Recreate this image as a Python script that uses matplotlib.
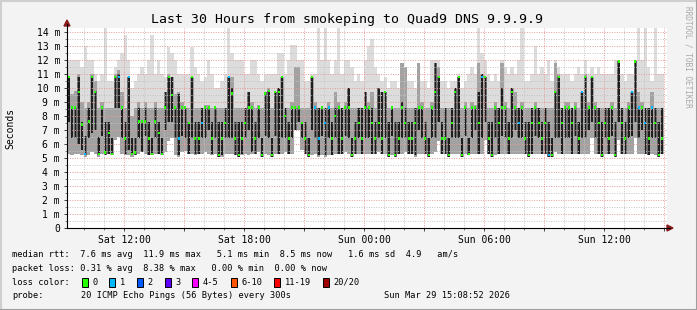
import numpy as np
import matplotlib.pyplot as plt
from matplotlib.lines import Line2D
from matplotlib.patches import Polygon, Rectangle
from matplotlib.ticker import MultipleLocator, FuncFormatter

plt.rcParams["font.family"] = "DejaVu Sans Mono"

W, H = 697, 310

# ================================
# DATA (10-minute columns, milliseconds)
# ================================

start_hour = 9 + 8 / 60 + 52 / 3600   # Sat 09:08:52, graph spans 30 h

median = [
    10.8, 8.6, 8.6, 9.7, 7.4, 5.3, 7.6, 10.8, 9.7, 5.3, 8.6, 5.4, 6.8, 5.3, 10.8, 10.8, 8.6, 6.4, 10.8, 5.3, 5.4, 7.6, 7.6, 7.6, 6.4, 5.3, 7.6, 6.8, 5.3, 8.6,
    10.8, 9.5, 8.6, 6.4, 8.6, 8.6, 7.5, 10.8, 6.4, 6.4, 7.5, 8.6, 8.6, 6.4, 8.6, 5.2, 6.4, 7.5, 10.8, 9.6, 6.4, 5.2, 6.4, 7.5, 8.6, 8.6, 6.4, 8.6, 5.2, 9.6,
    9.8, 5.2, 9.7, 9.7, 10.8, 8.0, 6.4, 8.6, 8.6, 8.6, 7.5, 6.4, 5.2, 10.8, 8.6, 6.4, 8.6, 7.5, 8.6, 6.4, 8.0, 8.6, 6.4, 8.6, 8.6, 5.2, 6.4, 7.5, 6.4, 8.6,
    8.6, 7.5, 6.4, 7.5, 6.4, 9.7, 5.2, 8.6, 5.2, 6.4, 8.6, 7.5, 6.4, 6.4, 7.5, 8.6, 8.6, 6.4, 5.2, 8.6, 9.7, 10.8, 6.4, 6.4, 5.2, 7.5, 9.7, 10.8, 5.2, 8.6,
    5.3, 8.6, 8.6, 7.5, 10.8, 10.8, 6.4, 5.2, 8.6, 7.5, 8.6, 8.6, 6.4, 9.7, 8.6, 7.5, 8.6, 6.4, 5.2, 7.5, 8.6, 7.5, 6.4, 7.5, 5.2, 5.2, 9.7, 10.8, 7.5, 8.6,
    8.6, 7.5, 8.6, 6.4, 9.7, 10.8, 8.6, 10.8, 8.6, 7.5, 5.2, 7.5, 6.4, 8.6, 5.2, 11.9, 7.5, 6.4, 8.6, 9.7, 11.9, 8.6, 8.6, 7.5, 6.4, 8.6, 7.5, 5.2, 6.4,
]

core_lo = [
    7.6, 6.4, 6.4, 6.0, 5.6, 5.2, 6.4, 6.8, 7.0, 5.2, 6.6, 5.2, 5.3, 5.2, 8.6, 8.6, 6.4, 5.3, 5.6, 5.2, 5.2, 6.4, 5.4, 6.6, 5.2, 5.2, 6.4, 5.3, 5.2, 7.0,
    7.6, 7.6, 6.4, 5.2, 6.6, 6.4, 5.3, 6.4, 5.3, 5.3, 6.4, 6.4, 7.0, 5.3, 6.4, 5.1, 5.2, 6.4, 6.4, 6.4, 5.2, 5.1, 5.3, 6.4, 7.0, 5.4, 5.3, 6.4, 5.1, 6.6,
    6.4, 5.1, 6.6, 5.3, 6.4, 6.4, 5.3, 6.4, 7.0, 7.6, 6.4, 5.3, 5.1, 7.0, 6.4, 5.2, 6.6, 5.2, 6.4, 5.2, 6.4, 5.3, 5.3, 6.6, 6.4, 5.1, 5.3, 6.4, 5.3, 6.4,
    6.4, 5.3, 5.3, 6.4, 5.3, 6.4, 5.1, 6.6, 5.1, 5.3, 6.4, 6.4, 5.3, 5.3, 5.2, 7.0, 6.4, 5.3, 5.1, 6.4, 6.4, 7.6, 5.3, 5.3, 5.1, 6.4, 6.4, 6.4, 5.1, 6.6,
    5.2, 6.4, 7.0, 5.3, 6.4, 7.6, 5.3, 5.1, 6.4, 5.3, 6.6, 6.4, 5.3, 6.4, 7.0, 6.4, 6.4, 5.3, 5.1, 5.3, 6.6, 6.4, 5.3, 5.3, 5.1, 5.1, 6.4, 6.4, 5.3, 6.4,
    6.4, 5.3, 6.6, 5.3, 6.4, 6.4, 7.0, 7.6, 6.4, 5.3, 5.1, 6.4, 5.3, 6.6, 5.1, 7.6, 5.3, 5.3, 6.4, 6.6, 7.6, 6.4, 7.0, 5.3, 5.2, 6.4, 6.4, 5.1, 5.3,
]

core_hi = [
    10.8, 8.6, 8.6, 10.8, 7.6, 6.6, 8.6, 10.8, 9.8, 6.5, 8.6, 7.6, 7.6, 6.4, 10.8, 11.0, 8.6, 7.6, 10.8, 6.4, 6.4, 8.6, 7.6, 8.6, 7.6, 6.4, 8.6, 7.6, 6.4, 9.7,
    10.8, 10.8, 8.6, 9.6, 8.6, 8.6, 7.6, 10.8, 7.6, 7.6, 8.6, 8.6, 8.6, 7.6, 8.6, 7.6, 7.6, 8.6, 10.8, 10.0, 7.6, 7.6, 7.6, 8.6, 9.7, 8.6, 7.6, 8.6, 6.4, 9.7,
    9.8, 6.4, 9.7, 10.0, 10.8, 8.6, 7.6, 8.6, 8.6, 8.6, 7.6, 7.6, 6.4, 10.8, 8.6, 8.6, 8.6, 8.6, 8.6, 7.6, 8.6, 8.6, 8.6, 8.6, 10.0, 6.4, 7.6, 8.6, 8.6, 9.7,
    8.6, 8.6, 7.6, 10.0, 9.7, 9.7, 7.6, 8.6, 7.6, 7.6, 9.0, 8.6, 7.6, 7.6, 8.6, 8.6, 8.6, 7.6, 6.4, 8.6, 11.8, 10.8, 7.6, 8.6, 6.4, 8.6, 10.0, 10.8, 6.4, 8.6,
    6.4, 8.6, 8.6, 9.7, 11.0, 10.8, 7.6, 7.6, 8.6, 8.6, 10.0, 8.6, 7.6, 10.0, 8.6, 8.6, 8.6, 7.6, 7.6, 8.6, 8.6, 8.6, 7.6, 8.6, 7.6, 6.4, 9.7, 10.8, 8.6, 8.6,
    8.6, 8.6, 8.6, 7.6, 9.7, 10.8, 8.6, 10.8, 8.6, 8.6, 7.6, 8.6, 8.6, 8.6, 7.6, 11.9, 8.6, 7.6, 8.6, 9.7, 11.9, 8.6, 8.6, 8.6, 8.6, 8.6, 8.6, 7.6, 8.6,
]

grey_hi = [
    10.8, 9.6, 9.8, 11.0, 9.0, 8.6, 9.0, 11.0, 10.5, 8.6, 9.0, 8.6, 8.6, 8.6, 11.0, 11.3, 9.7, 8.6, 10.8, 8.0, 8.6, 9.0, 8.6, 9.0, 8.6, 8.6, 9.0, 8.6, 8.6, 9.7,
    11.0, 10.8, 9.6, 9.7, 9.0, 8.6, 8.6, 10.8, 8.6, 8.6, 8.6, 8.8, 8.8, 8.6, 8.6, 8.6, 8.6, 8.6, 10.8, 10.8, 8.6, 8.6, 8.6, 8.6, 9.7, 9.0, 8.6, 8.8, 8.6, 9.7,
    10.0, 8.6, 9.7, 10.0, 10.8, 8.6, 8.6, 9.0, 11.5, 11.5, 8.6, 8.6, 8.6, 10.8, 9.0, 8.6, 8.6, 8.6, 9.0, 8.6, 9.7, 9.0, 8.6, 9.0, 10.0, 8.6, 8.6, 8.6, 8.6, 9.7,
    9.0, 9.7, 8.6, 10.0, 9.7, 9.7, 8.6, 8.6, 8.6, 8.6, 11.8, 11.5, 8.6, 8.6, 8.6, 11.8, 9.0, 8.6, 8.6, 9.0, 11.8, 11.5, 8.6, 8.6, 8.6, 8.6, 10.0, 10.8, 8.6, 9.0,
    8.6, 9.0, 8.8, 11.8, 11.0, 10.8, 8.6, 8.6, 9.0, 8.6, 11.8, 9.0, 8.6, 10.0, 9.7, 8.6, 9.0, 8.6, 8.6, 8.6, 9.0, 8.6, 8.6, 8.6, 8.6, 8.6, 11.8, 11.0, 8.6, 9.0,
    9.0, 8.6, 9.0, 8.6, 9.7, 11.0, 9.0, 10.8, 9.0, 8.6, 8.6, 8.6, 8.6, 9.0, 8.6, 11.9, 8.6, 8.6, 9.0, 9.7, 11.9, 9.7, 9.0, 8.6, 8.6, 9.7, 8.6, 8.6, 8.6,
]

smoke_top = [
    12.0, 12.0, 12.0, 12.0, 11.5, 13.0, 12.0, 12.0, 11.0, 10.5, 11.0, 14.3, 10.5, 10.5, 11.5, 12.0, 12.5, 13.8, 12.0, 10.0, 10.5, 11.0, 11.5, 11.0, 12.0, 13.8, 11.0, 12.0, 11.0, 10.8,
    12.9, 12.5, 12.0, 11.0, 11.0, 11.0, 11.0, 12.9, 11.5, 11.0, 10.5, 10.8, 12.0, 11.0, 10.0, 10.0, 10.5, 11.0, 14.3, 12.5, 12.0, 12.0, 12.0, 11.0, 11.0, 12.0, 12.0, 11.0, 10.5, 11.0,
    11.0, 11.0, 11.0, 12.5, 12.5, 11.0, 12.0, 13.1, 13.1, 12.0, 12.0, 10.5, 10.5, 11.0, 11.0, 14.3, 12.0, 14.3, 12.0, 11.0, 12.0, 14.3, 11.0, 12.0, 12.0, 11.5, 10.5, 11.0, 10.5, 12.0,
    13.0, 13.5, 11.5, 11.0, 10.5, 10.8, 10.0, 10.5, 10.5, 10.0, 11.8, 11.5, 10.5, 10.5, 10.0, 11.8, 10.5, 10.5, 10.0, 12.0, 12.0, 12.0, 10.5, 10.5, 10.0, 10.5, 10.5, 11.0, 10.0, 10.5,
    11.0, 11.5, 11.0, 14.3, 12.5, 12.0, 11.0, 10.5, 11.0, 10.5, 12.0, 11.5, 11.0, 11.5, 11.0, 12.0, 14.3, 10.5, 10.5, 11.0, 13.0, 11.0, 11.5, 11.0, 12.0, 10.5, 12.0, 11.5, 11.0, 11.0,
    11.0, 10.5, 11.0, 11.5, 11.0, 12.0, 11.0, 11.5, 11.0, 11.5, 11.0, 11.0, 11.0, 11.0, 12.0, 12.0, 11.0, 10.5, 11.0, 11.0, 12.0, 14.3, 12.0, 14.3, 11.5, 10.5, 14.3, 11.0, 11.0,
]

smoke_lo = [
    5.3, 5.2, 5.3, 5.3, 5.2, 5.1, 5.2, 5.4, 5.3, 5.1, 5.3, 5.2, 5.3, 5.2, 6.3, 6.5, 5.3, 5.2, 5.2, 5.1, 5.2, 5.3, 5.4, 5.3, 5.2, 5.2, 5.3, 5.3, 5.2, 5.4,
    6.2, 6.4, 5.2, 5.1, 5.4, 5.5, 5.3, 5.3, 5.2, 5.3, 5.3, 5.4, 5.3, 5.2, 5.3, 5.1, 5.1, 5.3, 5.3, 5.3, 5.2, 5.1, 5.2, 5.3, 5.2, 5.3, 5.3, 5.4, 5.1, 5.3,
    5.2, 5.1, 5.3, 5.3, 5.3, 5.4, 5.3, 5.3, 7.0, 7.0, 5.6, 5.3, 5.1, 5.2, 5.3, 5.1, 5.2, 5.1, 5.2, 5.2, 5.3, 5.3, 5.3, 5.4, 5.3, 5.1, 5.3, 5.3, 5.3, 5.3,
    5.3, 5.3, 5.3, 5.4, 5.3, 5.3, 5.1, 5.2, 5.1, 5.3, 5.3, 5.4, 5.3, 5.3, 5.1, 5.3, 5.3, 5.3, 5.1, 5.3, 5.4, 6.2, 5.3, 5.3, 5.1, 5.3, 5.3, 5.3, 5.1, 5.3,
    5.2, 5.3, 5.3, 5.3, 5.3, 6.3, 5.3, 5.1, 5.2, 5.3, 5.3, 5.3, 5.3, 5.3, 5.3, 5.3, 5.3, 5.3, 5.1, 5.3, 5.3, 5.3, 5.3, 5.3, 5.1, 5.1, 5.4, 5.3, 5.3, 5.3,
    5.3, 5.3, 5.3, 5.3, 5.3, 5.3, 5.3, 6.4, 5.3, 5.3, 5.1, 5.3, 5.3, 5.3, 5.1, 6.3, 5.3, 5.3, 5.3, 5.3, 6.4, 5.3, 5.3, 5.3, 5.2, 5.3, 5.2, 5.1, 5.3,
]

# columns whose median was measured with 1 lost ping
loss1_cols = [5, 15, 18, 33, 40, 48, 74, 75, 77, 78, 124, 135, 144, 154, 169, 171, 173, 175]

loss_labels = ["0", "1", "2", "3", "4-5", "6-10", "11-19", "20/20"]
loss_colors = ["#26ff00", "#00b8ff", "#0059ff", "#5e00ff", "#ff00ff", "#ff5500", "#ff0000", "#a10000"]

title = "Last 30 Hours from smokeping to Quad9 DNS 9.9.9.9"
stats_rtt = "median rtt:  7.6 ms avg  11.9 ms max   5.1 ms min  8.5 ms now   1.6 ms sd  4.9   am/s"
stats_loss = "packet loss: 0.31 % avg  8.38 % max   0.00 % min  0.00 % now"
probe_text = "20 ICMP Echo Pings (56 Bytes) every 300s"
stamp = "Sun Mar 29 15:08:52 2026"


# ================================
# FIGURE
# ================================

def fx(x):
    return x / W


def fy(y):
    return 1 - y / H


fig = plt.figure(figsize=(W / 100, H / 100), dpi=100, facecolor="#f3f3f3")
ax = fig.add_axes([fx(67), fy(228), 600 / W, 200 / H])
ax.set_facecolor("white")

n = len(median)
x = start_hour + np.arange(n) / 6
step = 1 / 6

lo = np.array(smoke_lo)
ax.bar(x, np.array(smoke_top) - lo, bottom=lo, width=step, align="edge",
       color="#dcdcdc", linewidth=0, zorder=1)
ax.bar(x, np.array(grey_hi) - lo, bottom=lo, width=step, align="edge",
       color="#a2a2a2", linewidth=0, zorder=1.1)
ax.bar(x + step * 0.1, np.array(core_hi) - np.array(core_lo), bottom=core_lo,
       width=step * 0.8, align="edge", color="#6a6a6a", linewidth=0, zorder=1.15)
ax.bar(x + step * 0.25, np.array(core_hi) - np.array(core_lo), bottom=core_lo,
       width=step * 0.5, align="edge", color="#1e1e1e", linewidth=0, zorder=1.2)

med_colors = [loss_colors[1] if i in loss1_cols else loss_colors[0] for i in range(n)]
ax.bar(x + step * 0.2, 0.17, bottom=np.array(median) - 0.08, width=step * 0.6,
       align="edge", color=med_colors, linewidth=0, zorder=3)

ax.set_xlim(start_hour, start_hour + 30)
ax.set_ylim(0, 200 / 14)

ax.xaxis.set_major_locator(MultipleLocator(3))
ax.xaxis.set_minor_locator(MultipleLocator(1))
ax.yaxis.set_major_locator(MultipleLocator(1))
ax.yaxis.set_minor_locator(MultipleLocator(0.5))


def xfmt(v, pos):
    h = int(round(v))
    if h % 6:
        return ""
    day = "Sat" if h < 24 else "Sun"
    return f"{day} {h % 24:02d}:00"


def yfmt(v, pos):
    v = int(round(v))
    return "0" if v == 0 else f"{v} m"


ax.xaxis.set_major_formatter(FuncFormatter(xfmt))
ax.yaxis.set_major_formatter(FuncFormatter(yfmt))

ax.set_axisbelow(False)
ax.grid(which="major", color="#e69a9a", linestyle=(0, (1, 1.5)), linewidth=0.7)
ax.grid(which="minor", color="#c4c4c4", linestyle=(0, (1, 1.5)), linewidth=0.7)
ax.tick_params(which="major", direction="out", length=2.5, width=0.7,
               color="#404040", labelsize=7, pad=2.5)
ax.tick_params(which="minor", direction="out", length=1.5, width=0.7, color="#808080")
for s in ax.spines.values():
    s.set_visible(False)

# axis lines with rrdtool arrows
fig.add_artist(Line2D([fx(67), fx(670)], [fy(228), fy(228)], color="black", lw=0.8))
fig.add_artist(Line2D([fx(67), fx(67)], [fy(228), fy(24)], color="black", lw=0.8))
fig.add_artist(Polygon([(fx(667), fy(225)), (fx(667), fy(231)), (fx(673), fy(228))],
                       closed=True, color="#8b1a1a", transform=fig.transFigure))
fig.add_artist(Polygon([(fx(64), fy(26)), (fx(70), fy(26)), (fx(67), fy(20))],
                       closed=True, color="#8b1a1a", transform=fig.transFigure))

# 3d frame
fig.add_artist(Line2D([0, 1], [fy(0.5)] * 2, color="#cfcfcf", lw=1.5))
fig.add_artist(Line2D([fx(0.5)] * 2, [0, 1], color="#cfcfcf", lw=1.5))
fig.add_artist(Line2D([0, 1], [fy(H - 0.5)] * 2, color="#9e9e9e", lw=1.5))
fig.add_artist(Line2D([fx(W - 0.5)] * 2, [0, 1], color="#9e9e9e", lw=1.5))

# texts
fig.text(fx(347), fy(19), title, ha="center", va="center", fontsize=9.5)
fig.text(fx(10), fy(128), "Seconds", rotation=90, ha="center", va="center", fontsize=7)
fig.text(fx(688), fy(57), "RRDTOOL / TOBI OETIKER", rotation=270, ha="center",
         va="center", fontsize=5.6, color="#a8a8a8")

fs = 6.2
fig.text(fx(12), fy(254.7), stats_rtt, ha="left", va="center", fontsize=fs)
fig.text(fx(12), fy(268.3), stats_loss, ha="left", va="center", fontsize=fs)
fig.text(fx(12), fy(282.3), "loss color:", ha="left", va="center", fontsize=fs)
box_x = [81.7, 109.3, 137, 164.7, 192.3, 230.7, 274, 322.7]
for bx, lab, col in zip(box_x, loss_labels, loss_colors):
    fig.add_artist(Rectangle((fx(bx), fy(286.5)), 6 / W, 8.5 / H, facecolor=col,
                             edgecolor="black", lw=0.7, transform=fig.transFigure))
    fig.text(fx(bx + 10.5), fy(282.3), lab, ha="left", va="center", fontsize=fs)
fig.text(fx(12), fy(296), "probe:", ha="left", va="center", fontsize=fs)
fig.text(fx(80.7), fy(296), probe_text, ha="left", va="center", fontsize=fs)
fig.text(fx(510), fy(296), stamp, ha="right", va="center", fontsize=fs)

fig.savefig("out.png", dpi=100, facecolor=fig.get_facecolor())
